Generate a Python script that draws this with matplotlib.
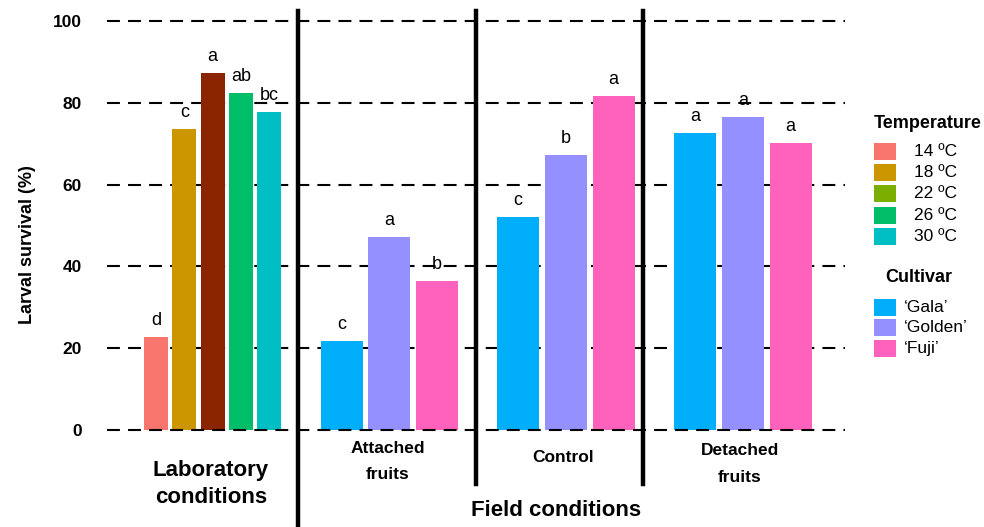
import matplotlib
matplotlib.use("Agg")
import matplotlib.pyplot as plt
from matplotlib.patches import Rectangle

plt.rcParams['font.family'] = ['Liberation Sans', 'DejaVu Sans']

# ---------------- data ----------------
temp_labels = ['14 ºC', '18 ºC', '22 ºC', '26 ºC', '30 ºC']
lab_values = [22.7, 73.6, 87.3, 82.4, 77.7]
lab_letters = ['d', 'c', 'a', 'ab', 'bc']
lab_colors = ['#F8766D', '#CC9600', '#8B2500', '#00BE67', '#00BFC4']
temp_legend_colors = ['#F8766D', '#CC9600', '#7CAE00', '#00BE67', '#00BFC4']

cultivars = ["‘Gala’", "‘Golden’", "‘Fuji’"]
cult_colors = ['#00AEFA', '#9590FF', '#FF62BC']
field_groups = ['Attached\nfruits', 'Control', 'Detached\nfruits']
field_values = [
    [21.8, 47.2, 36.4],
    [52.1, 67.2, 81.7],
    [72.6, 76.5, 70.2],
]
field_letters = [
    ['c', 'a', 'b'],
    ['c', 'b', 'a'],
    ['a', 'a', 'a'],
]
yticks = [0, 20, 40, 60, 80, 100]

# ---------------- layout ----------------
W, H = 984, 527
fig = plt.figure(figsize=(W / 100, H / 100), dpi=100)
ax_left, ax_right = 107, 845
y0_px, y100_px = 430, 21
ax = fig.add_axes([ax_left / W, (H - y0_px) / H, (ax_right - ax_left) / W,
                   (y0_px - y100_px) / H])
ax.set_xlim(0, ax_right - ax_left)
ax.set_ylim(0, 100)
for s in ax.spines.values():
    s.set_visible(False)
ax.set_xticks([])
ax.set_yticks(yticks)
ax.set_yticklabels([str(t) for t in yticks], fontsize=12.5, fontweight='bold')
ax.tick_params(axis='y', length=0, pad=18)
ax.set_ylabel('Larval survival (%)', fontsize=13, fontweight='bold')
ax.yaxis.set_label_coords((36 - ax_left) / (ax_right - ax_left),
                          (y0_px - 245) / (y0_px - y100_px))

dash = (0, (6.2, 3.9))
for t in yticks:
    ax.axhline(t, color='black', lw=1.5, linestyle=dash, zorder=1 if t else 3,
               clip_on=False)

letter_off = 2.0
# lab bars
lab_start, lab_step, lab_w = 156 - ax_left, 28.3, 24
for i, (v, c, l) in enumerate(zip(lab_values, lab_colors, lab_letters)):
    x = lab_start + i * lab_step
    ax.bar(x, v, width=lab_w, color=c, zorder=2)
    ax.text(x, v + letter_off, l, ha='center', va='bottom', fontsize=13)

# field bars
grp_starts = [341.5 - ax_left, 518 - ax_left, 695 - ax_left]
f_step, f_w = 47.8, 42
for g, (gs, vals, lets) in enumerate(zip(grp_starts, field_values, field_letters)):
    for j, (v, l) in enumerate(zip(vals, lets)):
        x = gs + j * f_step
        ax.bar(x, v, width=f_w, color=cult_colors[j], zorder=2)
        ax.text(x, v + letter_off, l, ha='center', va='bottom', fontsize=13)

# separators (figure pixel coordinates)
def fx(px):
    return px / W
def fy(py):
    return 1 - py / H

fig.add_artist(plt.Line2D([fx(298), fx(298)], [fy(11), fy(527)], color='black', lw=3.2))
fig.add_artist(plt.Line2D([fx(476), fx(476)], [fy(11), fy(484)], color='black', lw=3.2))
fig.add_artist(plt.Line2D([fx(643), fx(643)], [fy(11), fy(484)], color='black', lw=3.2))

# group labels
fig.text(fx(211), fy(484), 'Laboratory\nconditions', ha='center', va='center',
         fontsize=16, fontweight='bold', linespacing=1.42)
fig.text(fx(556), fy(510), 'Field conditions', ha='center', va='center',
         fontsize=16, fontweight='bold')
group_label_x = [388, 563, 740]
group_label_y = [461.5, 458, 464]
for lbl, gx, gy in zip(field_groups, group_label_x, group_label_y):
    fig.text(fx(gx), fy(gy), lbl, ha='center', va='center', fontsize=12.5,
             fontweight='bold', linespacing=1.95)

# legends (drawn manually in figure pixel coordinates)
def legend_block(title, title_x, title_y, labels, colors, y_first, step, text_x):
    fig.text(fx(title_x), fy(title_y), title, ha='center', va='center',
             fontsize=13, fontweight='bold')
    for k, (lab, col) in enumerate(zip(labels, colors)):
        yc = y_first + k * step
        fig.add_artist(Rectangle((fx(874), fy(yc + 8.5)), 22 / W, 17 / H,
                                 facecolor=col, edgecolor='none',
                                 transform=fig.transFigure))
        fig.text(fx(text_x), fy(yc), lab, ha='left', va='center', fontsize=12.5)

legend_block('Temperature', 928, 123, temp_labels, temp_legend_colors, 151.5, 21.2, 914)
legend_block('Cultivar', 919, 278, cultivars, cult_colors, 307, 20.5, 904)

fig.savefig('out.png', dpi=100)
